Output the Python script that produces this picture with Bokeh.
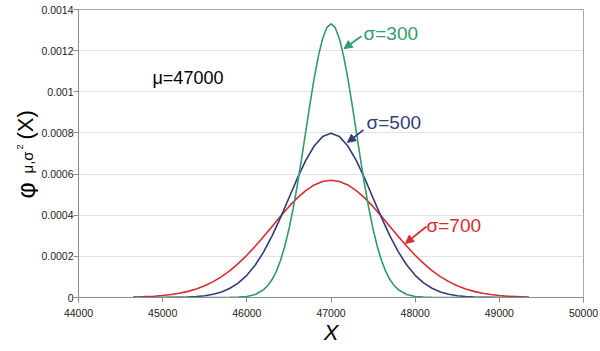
import math
from bokeh.plotting import figure
from bokeh.layouts import row
from bokeh.models import (Range1d, FixedTicker, Label, Arrow, NormalHead)
from bokeh.embed import file_html
from bokeh.resources import INLINE

# ---- data ----
x_vals = [44650, 44700, 44800, 44900, 45000, 45100, 45200, 45300, 45400, 45500,
          45600, 45700, 45800, 45900, 46000, 46100, 46200, 46300, 46400, 46500,
          46600, 46700, 46800, 46900, 47000,
          47100, 47200, 47300, 47400, 47500, 47600, 47700, 47800, 47900, 48000,
          48100, 48200, 48300, 48400, 48500, 48600, 48700, 48800, 48900, 49000,
          49100, 49200, 49300, 49350]

x_vals_300 = [44650, 45000, 45500, 45800, 45900, 46000, 46100, 46200, 46250, 46300,
              46350, 46400, 46450, 46500, 46550, 46600, 46650, 46700, 46750, 46800,
              46850, 46900, 46950, 47000,
              47050, 47100, 47150, 47200, 47250, 47300, 47350, 47400, 47450, 47500,
              47550, 47600, 47650, 47700, 47750, 47800, 47900, 48000, 48100, 48200,
              48500, 49000, 49350]

sigma300 = [0, 0, 0, 0.00000045, 0.0000016, 0.00000514, 0.00001477, 0.00003798,
            0.00005843, 0.00008738, 0.00012717, 0.00017997, 0.0002477, 0.00033158,
            0.00043172, 0.00054669, 0.00067333, 0.00080657, 0.0009397, 0.0010648,
            0.0011735, 0.0012579, 0.0013115, 0.0013298,
            0.0013115, 0.0012579, 0.0011735, 0.0010648, 0.0009397, 0.00080657,
            0.00067333, 0.00054669, 0.00043172, 0.00033158, 0.0002477, 0.00017997,
            0.00012717, 0.00008738, 0.00005843, 0.00003798, 0.00001477, 0.00000514,
            0.0000016, 0.00000045, 0, 0, 0]

sigma500 = [0.00000001, 0.00000002, 0.00000005, 0.00000012, 0.00000027, 0.00000058,
            0.00000122, 0.00000246, 0.00000477, 0.00000886, 0.00001583, 0.00002717,
            0.00004479, 0.00007095, 0.00010798, 0.0001579, 0.00022184, 0.00029945,
            0.00038837, 0.00048394, 0.00057938, 0.00066645, 0.00073654, 0.00078208,
            0.00079788,
            0.00078208, 0.00073654, 0.00066645, 0.00057938, 0.00048394, 0.00038837,
            0.00029945, 0.00022184, 0.0001579, 0.00010798, 0.00007095, 0.00004479,
            0.00002717, 0.00001583, 0.00000886, 0.00000477, 0.00000246, 0.00000122,
            0.00000058, 0.00000027, 0.00000012, 0.00000005, 0.00000002, 0.00000001]

sigma700 = [0.00000203, 0.00000258, 0.00000408, 0.00000633, 0.00000962, 0.00001433,
            0.0000209, 0.00002986, 0.00004182, 0.00005737, 0.00007713, 0.00010159,
            0.00013111, 0.00016578, 0.00020542, 0.00024938, 0.00029663, 0.00034567,
            0.0003947, 0.00044157, 0.00048407, 0.00051992, 0.00054713, 0.00056413,
            0.00056992,
            0.00056413, 0.00054713, 0.00051992, 0.00048407, 0.00044157, 0.0003947,
            0.00034567, 0.00029663, 0.00024938, 0.00020542, 0.00016578, 0.00013111,
            0.00010159, 0.00007713, 0.00005737, 0.00004182, 0.00002986, 0.0000209,
            0.00001433, 0.00000962, 0.00000633, 0.00000408, 0.00000258, 0.00000203]

series_names = ["\u03c3=300", "\u03c3=500", "\u03c3=700"]
mu_text = "\u03bc=47000"
y_title_parts = ["\u03c6", "\u03bc,\u03c3", "2", "(X)"]

x_ticks = [44000, 45000, 46000, 47000, 48000, 49000, 50000]
x_tick_labels = ["44000", "45000", "46000", "47000", "48000", "49000", "50000"]
y_ticks = [0, 0.0002, 0.0004, 0.0006, 0.0008, 0.001, 0.0012, 0.0014]
y_tick_labels = ["0", "0.0002", "0.0004", "0.0006", "0.0008", "0.001", "0.0012", "0.0014"]

# ---- styling ----
FONT = "Liberation Sans"
GREEN = "#2f9c6c"
BLUE = "#323d7c"
RED = "#dc2a30"
LEFT_W = 38
TOP, BOTTOM = 9, 54   # frame borders (pixels)

# left strip holding the rotated y title; its frame is aligned with the main frame
side = figure(width=LEFT_W, height=351, output_backend="svg", toolbar_location=None,
              x_range=Range1d(0, LEFT_W), y_range=Range1d(BOTTOM, 351 - TOP),
              x_axis_location=None, y_axis_location=None,
              min_border_left=0, min_border_right=0,
              min_border_top=TOP, min_border_bottom=BOTTOM)
side.outline_line_color = None
side.grid.grid_line_color = None
side.background_fill_color = "white"
side.border_fill_color = "white"

def ylab(cx, cy, s, size):
    side.add_layout(Label(x=cx, y=351 - cy, text=s, angle=math.pi / 2,
                          text_font=FONT, text_font_size=size, text_color="black",
                          text_align="left", text_baseline="alphabetic"))

ylab(25, 198, y_title_parts[0], "25px")
ylab(27, 173, y_title_parts[1], "15px")
ylab(19, 149, y_title_parts[2], "9px")
ylab(25, 139, y_title_parts[3], "22px")

p = figure(width=600 - LEFT_W, height=351, output_backend="svg", toolbar_location=None,
           x_range=Range1d(44000, 50000), y_range=Range1d(0, 0.0014),
           min_border_left=78 - LEFT_W, min_border_right=17, min_border_top=TOP,
           min_border_bottom=BOTTOM)
p.background_fill_color = "white"
p.border_fill_color = "white"
p.outline_line_color = "#a8a8a8"
p.outline_line_width = 1

p.xgrid.grid_line_color = None
p.ygrid.grid_line_color = "#e2e2e2"
p.ygrid.grid_line_width = 1

for ax in (p.xaxis[0], p.yaxis[0]):
    ax.axis_line_color = "#8c8c8c"
    ax.major_tick_line_color = "#8c8c8c"
    ax.major_tick_out = 5
    ax.major_tick_in = 0
    ax.minor_tick_line_color = None
    ax.major_label_text_font = FONT
    ax.major_label_text_font_size = "10.5px"
    ax.major_label_text_color = "#222222"

p.xaxis.ticker = FixedTicker(ticks=x_ticks)
p.xaxis.major_label_overrides = {t: s for t, s in zip(x_ticks, x_tick_labels)}
p.yaxis.ticker = FixedTicker(ticks=y_ticks)
p.yaxis.major_label_overrides = {t: s for t, s in zip(y_ticks, y_tick_labels)}
p.xaxis.major_label_standoff = 6
p.yaxis.major_label_standoff = 0

p.xaxis.axis_label = "X"
p.xaxis.axis_label_text_font = FONT
p.xaxis.axis_label_text_font_style = "italic"
p.xaxis.axis_label_text_font_size = "22px"
p.xaxis.axis_label_text_color = "black"
p.xaxis.axis_label_standoff = 0

# curves
p.line(x_vals, sigma700, line_color=RED, line_width=1.6, line_join="round")
p.line(x_vals, sigma500, line_color=BLUE, line_width=1.6, line_join="round")
p.line(x_vals_300, sigma300, line_color=GREEN, line_width=1.6, line_join="round")

def txt(x, y, s, color, size="19px"):
    p.add_layout(Label(x=x, y=y, text=s, text_color=color, text_font=FONT,
                       text_font_size=size, text_align="left",
                       text_baseline="alphabetic"))

txt(44879, 0.001069, mu_text, "black", "18px")
txt(47386, 0.001283, series_names[0], GREEN)
txt(47422, 0.000851, series_names[1], BLUE)
txt(48135, 0.000350, series_names[2], RED)

def arrow(x0, y0, x1, y1, color):
    p.add_layout(Arrow(x_start=x0, y_start=y0, x_end=x1, y_end=y1,
                       line_color=color, line_width=1.8,
                       end=NormalHead(size=8, fill_color=color, line_color=color)))

arrow(47362, 0.001270, 47155, 0.001210, GREEN)
arrow(47386, 0.000815, 47196, 0.000754, BLUE)
arrow(48135, 0.000345, 47885, 0.000263, RED)

layout = row(side, p, spacing=0)
open("out.html", "w").write(file_html(layout, INLINE))
